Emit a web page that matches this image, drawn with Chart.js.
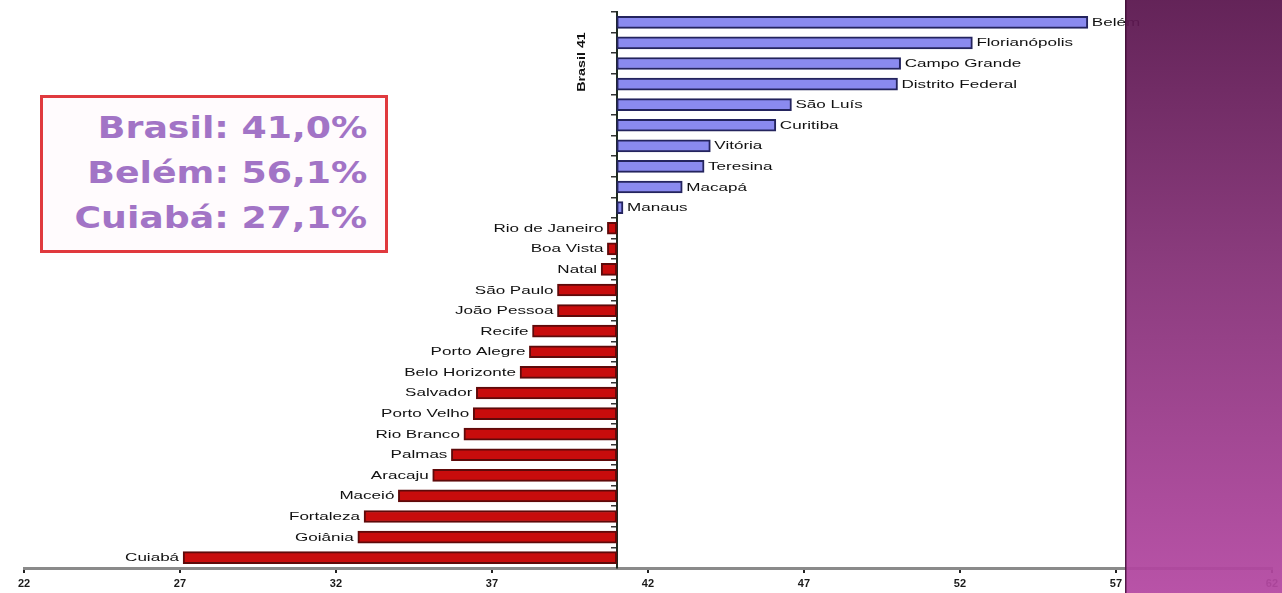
<!DOCTYPE html>
<html>
<head>
<meta charset="utf-8">
<script src="https://cdn.jsdelivr.net/npm/chart.js@4.4.1/dist/chart.umd.min.js"></script>
<style>
  html, body { margin: 0; padding: 0; background: #ffffff; }
  #wrap { position: relative; width: 1282px; height: 593px; overflow: hidden; background: #ffffff; }
  #chart { position: absolute; left: 0; top: 0; }
  #box {
    position: absolute; left: 40px; top: 95px; width: 342px; height: 152px;
    border: 3px solid #e03a3e; background: #fffbfd;
  }
  .stat {
    position: absolute; right: 18px; white-space: nowrap;
    font-family: "DejaVu Sans", Verdana, sans-serif; font-weight: bold;
    font-size: 31px; line-height: 36px; color: #a274c6;
    transform: scaleX(1.17); transform-origin: right center;
  }
</style>
</head>
<body>
<div id="wrap">
  <canvas id="chart" width="1282" height="593"></canvas>
  <div id="box">
    <div class="stat" style="top:11px">Brasil: 41,0%</div>
    <div class="stat" style="top:56px">Belém: 56,1%</div>
    <div class="stat" style="top:101px">Cuiabá: 27,1%</div>
  </div>
</div>
<script>
// Capitals, ordered from highest to lowest share (%)
const cities = [
  "Belém", "Florianópolis", "Campo Grande", "Distrito Federal", "São Luís",
  "Curitiba", "Vitória", "Teresina", "Macapá", "Manaus",
  "Rio de Janeiro", "Boa Vista", "Natal", "São Paulo", "João Pessoa",
  "Recife", "Porto Alegre", "Belo Horizonte", "Salvador", "Porto Velho",
  "Rio Branco", "Palmas", "Aracaju", "Maceió", "Fortaleza", "Goiânia", "Cuiabá"
];
const shares = [
  56.1, 52.4, 50.1, 50.0, 46.6,
  46.1, 44.0, 43.8, 43.1, 41.2,
  40.7, 40.7, 40.5, 39.1, 39.1,
  38.3, 38.2, 37.9, 36.5, 36.4,
  36.1, 35.7, 35.1, 34.0, 32.9, 32.7, 27.1
];
// National reference value: bars grow from this baseline
const brasil = 41.0;
const xTicks = [22, 27, 32, 37, 42, 47, 52, 57, 62];

const bars = shares.map(v => [brasil, v]);

const labelFont = '11px "Liberation Sans", Arial, sans-serif';

// City names drawn at the outer end of each bar
const barLabels = {
  id: 'barLabels',
  afterDatasetsDraw(chart) {
    const ctx = chart.ctx;
    const meta = chart.getDatasetMeta(0);
    ctx.save();
    ctx.font = labelFont;
    ctx.fillStyle = '#111111';
    ctx.textBaseline = 'middle';
    const sx = 1.55;
    meta.data.forEach((el, i) => {
      const p = el.getProps(['x', 'y', 'base'], true);
      const name = cities[i];
      const w = ctx.measureText(name).width * sx;
      let x;
      if (shares[i] >= brasil) x = Math.max(p.x, p.base) + 4;
      else x = Math.min(p.x, p.base) - 4 - w;
      ctx.save();
      ctx.translate(x, p.y + 0.5);
      ctx.scale(sx, 1);
      ctx.textAlign = 'left';
      ctx.fillText(name, 0, 0);
      ctx.restore();
    });
    // rotated caption beside the baseline
    ctx.save();
    ctx.translate(582, 62);
    ctx.rotate(-Math.PI / 2);
    ctx.font = 'bold 11px "Liberation Sans", Arial, sans-serif';
    ctx.textAlign = 'center';
    ctx.scale(1.3, 1);
    ctx.fillText('Brasil 41', 0, 0);
    ctx.restore();
    ctx.restore();
  }
};

// Decorative gradient band along the right edge
const sideBand = {
  id: 'sideBand',
  afterDraw(chart) {
    const ctx = chart.ctx;
    const x0 = 1125, w = 1282 - x0, h = 593;
    ctx.save();
    const g = ctx.createLinearGradient(0, 0, 0, h);
    g.addColorStop(0, 'rgba(90,22,78,0.94)');
    g.addColorStop(0.45, 'rgba(132,48,118,0.94)');
    g.addColorStop(1, 'rgba(180,72,162,0.94)');
    ctx.fillStyle = g;
    ctx.fillRect(x0, 0, w, h);
    ctx.fillStyle = 'rgba(60,10,50,0.8)';
    ctx.fillRect(x0, 0, 1.5, h);
    ctx.restore();
  }
};

new Chart(document.getElementById('chart'), {
  type: 'bar',
  data: {
    labels: cities,
    datasets: [{
      data: bars,
      backgroundColor: shares.map(v => v >= brasil ? '#8a8aef' : '#c80c0c'),
      borderColor: shares.map(v => v >= brasil ? '#24245e' : '#5e0a0a'),
      borderWidth: 2,
      borderSkipped: false,
      barThickness: 12
    }]
  },
  options: {
    indexAxis: 'y',
    responsive: false,
    animation: false,
    devicePixelRatio: 1,
    layout: { padding: { left: 24, right: 10, top: 12, bottom: 0 } },
    plugins: { legend: { display: false }, tooltip: { enabled: false } },
    scales: {
      x: {
        type: 'linear',
        min: 22, max: 62,
        afterBuildTicks(scale) { scale.ticks = xTicks.map(v => ({ value: v })); },
        afterFit(scale) { scale.height = 25; },
        border: { color: '#8a8a8a', width: 3 },
        grid: { drawOnChartArea: false, drawTicks: true, tickLength: 5, color: '#222222', lineWidth: 2 },
        ticks: {
          padding: 4,
          color: '#1a1a1a',
          font: { family: '"Liberation Sans", Arial, sans-serif', size: 11, weight: 'bold' }
        }
      },
      y: {
        position: { x: brasil },
        offset: true,
        border: { color: '#1f2a20', width: 2 },
        grid: { drawOnChartArea: false, drawTicks: true, tickLength: 5, color: '#333333', lineWidth: 1.5 },
        ticks: { display: false }
      }
    }
  },
  plugins: [barLabels, sideBand]
});
</script>
</body>
</html>
